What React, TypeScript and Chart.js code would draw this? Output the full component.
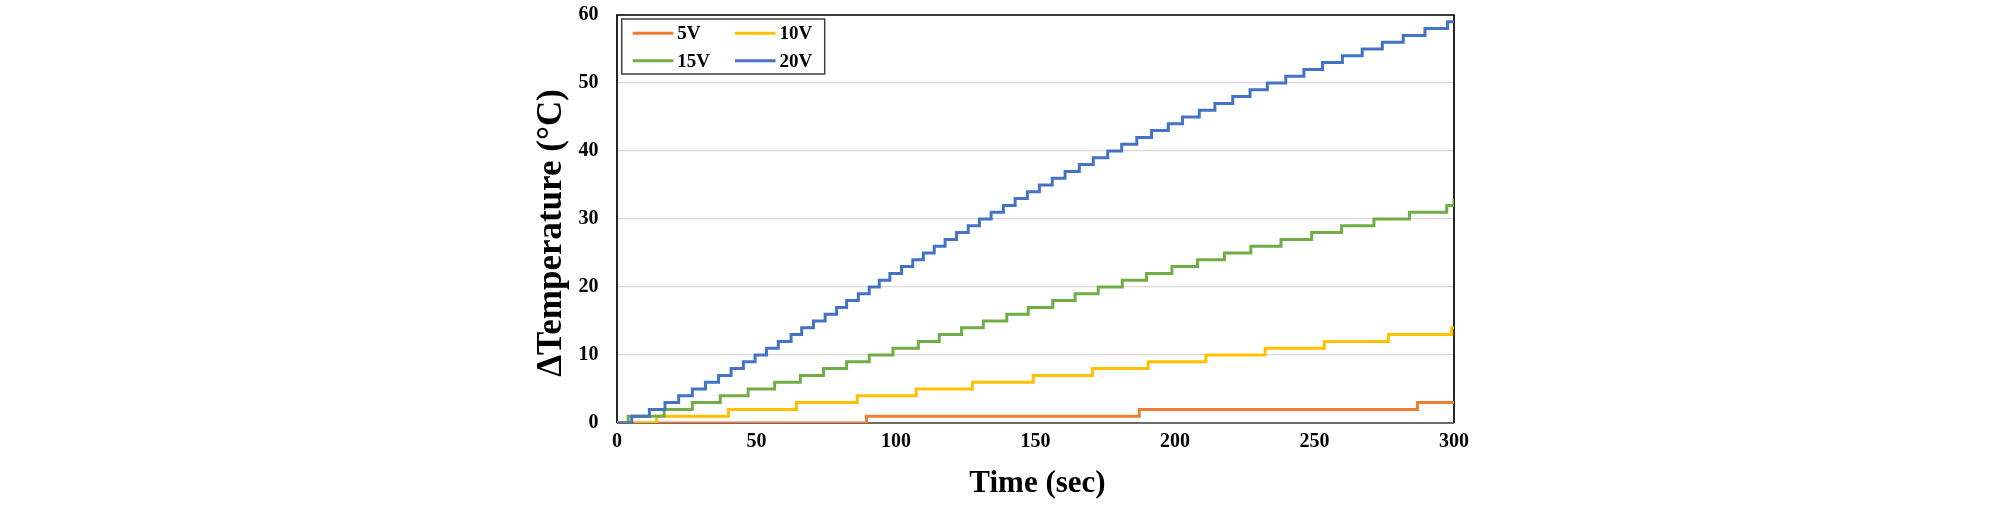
import React, { useEffect, useRef } from 'react';
import { Chart, registerables } from 'chart.js';

Chart.register(...registerables);

// ---- data ----
const SERIES_LABELS = ['5V', '10V', '15V', '20V'];
const SERIES_COLORS = ['#ED7D31', '#FFC000', '#70AD47', '#4472C4'];

const X_TITLE = 'Time (sec)';
const Y_TITLE = 'ΔTemperature (°C)';

// time (sec) at which each new reading starts, and the reading (°C)
const TIME_5V = [0, 89.4, 187.2, 286.9, 300];
const TEMP_5V = [0, 1, 2, 3, 3];

const TIME_10V = [0, 14.2, 40.0, 64.3, 86.1, 107.2, 127.4, 149.2, 170.4, 190.4, 211.1, 232.3, 253.5, 276.5, 299.2, 300];
const TEMP_10V = [0, 1, 2, 3, 4, 5, 6, 7, 8, 9, 10, 11, 12, 13, 14, 14];

const TIME_15V = [0, 4.0, 16.9, 27.0, 37.0, 47.0, 56.5, 65.7, 74.0, 82.3, 90.4, 98.9, 108.0, 115.5, 123.5, 131.3, 139.7, 147.4, 156.2, 164.2, 172.5, 181.1, 189.8, 198.9, 208.1, 217.7, 227.2, 238.0, 249.0, 259.7, 271.3, 284.0, 297.4, 300];
const TEMP_15V = [0, 1, 2, 3, 4, 5, 6, 7, 8, 9, 10, 11, 12, 13, 14, 15, 16, 17, 18, 19, 20, 21, 22, 23, 24, 25, 26, 27, 28, 29, 30, 31, 32, 33];

const TIME_20V = [0, 5.3, 11.6, 17.2, 22.1, 27.0, 31.7, 36.4, 40.9, 45.3, 49.5, 53.6, 57.8, 62.4, 66.2, 70.4, 74.6, 78.7, 82.3, 86.5, 90.4, 94.0, 97.8, 102.0, 106.0, 109.8, 113.7, 117.6, 121.7, 125.9, 129.9, 134.1, 138.5, 142.7, 147.1, 151.4, 156.0, 160.6, 165.7, 170.7, 175.9, 180.9, 186.3, 191.6, 197.6, 202.7, 208.7, 214.3, 220.7, 226.9, 233.1, 239.7, 246.2, 252.9, 260.0, 267.1, 274.3, 281.8, 289.6, 297.7, 300];
const TEMP_20V = [0, 1, 2, 3, 4, 5, 6, 7, 8, 9, 10, 11, 12, 13, 14, 15, 16, 17, 18, 19, 20, 21, 22, 23, 24, 25, 26, 27, 28, 29, 30, 31, 32, 33, 34, 35, 36, 37, 38, 39, 40, 41, 42, 43, 44, 45, 46, 47, 48, 49, 50, 51, 52, 53, 54, 55, 56, 57, 58, 59, 59];

const X_MIN = 0;
const X_MAX = 300;
const X_STEP = 50;
const Y_MIN = 0;
const Y_MAX = 60;
const Y_STEP = 10;

const SERIES_TIMES = [TIME_5V, TIME_10V, TIME_15V, TIME_20V];
const SERIES_TEMPS = [TEMP_5V, TEMP_10V, TEMP_15V, TEMP_20V];

// ---- styling ----
const FONT_FAMILY = '"Liberation Serif", "Times New Roman", Times, serif';
const W = 2008;
const H = 505;

const framePlugin = {
  id: 'frame',
  beforeDatasetsDraw(chart: any) {
    const { ctx, chartArea: a } = chart;
    ctx.save();
    ctx.strokeStyle = '#000000';
    ctx.lineWidth = 1.7;
    ctx.beginPath();
    ctx.moveTo(a.left, a.bottom);
    ctx.lineTo(a.left, a.top);
    ctx.lineTo(a.right, a.top);
    ctx.lineTo(a.right, a.bottom);
    ctx.stroke();
    ctx.strokeStyle = '#404040';
    ctx.lineWidth = 1.5;
    ctx.beginPath();
    ctx.moveTo(a.left, a.bottom);
    ctx.lineTo(a.right, a.bottom);
    ctx.stroke();
    ctx.restore();
  },
};

const legendPlugin = {
  id: 'boxLegend',
  afterDatasetsDraw(chart: any) {
    const { ctx, chartArea: a } = chart;
    const bx = a.left + 4.7;
    const by = a.top + 4;
    const bw = 203;
    const bh = 55;
    ctx.save();
    ctx.fillStyle = '#ffffff';
    ctx.fillRect(bx, by, bw, bh);
    ctx.strokeStyle = '#404040';
    ctx.lineWidth = 1.5;
    ctx.strokeRect(bx, by, bw, bh);
    ctx.font = `bold 19px ${FONT_FAMILY}`;
    ctx.textBaseline = 'middle';
    ctx.textAlign = 'left';
    const colX = [11, 113.3];
    const rowY = [14.3, 41.7];
    chart.data.datasets.forEach((ds: any, i: number) => {
      const cx = bx + colX[i % 2];
      const cy = by + rowY[Math.floor(i / 2)];
      ctx.strokeStyle = ds.borderColor;
      ctx.lineWidth = 3;
      ctx.beginPath();
      ctx.moveTo(cx, cy);
      ctx.lineTo(cx + 40.6, cy);
      ctx.stroke();
      ctx.fillStyle = '#000000';
      ctx.fillText(ds.label, cx + 44.6, cy + 1);
    });
    ctx.restore();
  },
};

const titlesPlugin = {
  id: 'axisTitles',
  afterDraw(chart: any) {
    const { ctx, chartArea: a } = chart;
    ctx.save();
    ctx.fillStyle = '#000000';
    ctx.textAlign = 'center';
    ctx.textBaseline = 'middle';
    ctx.font = `bold 31px ${FONT_FAMILY}`;
    ctx.fillText(X_TITLE, (a.left + a.right) / 2 + 2, a.bottom + 61);
    ctx.translate(a.left - 65.5, (a.top + a.bottom) / 2 + 14);
    ctx.rotate(-Math.PI / 2);
    ctx.font = `bold 35px ${FONT_FAMILY}`;
    ctx.fillText(Y_TITLE, 0, 0);
    ctx.restore();
  },
};

export default function App() {
  const canvasRef = useRef<HTMLCanvasElement | null>(null);

  useEffect(() => {
    document.body.style.margin = '0';
    const canvas = canvasRef.current;
    if (!canvas) return;

    const datasets = SERIES_LABELS.map((label, i) => ({
      label,
      data: SERIES_TIMES[i].map((t, j) => ({ x: t, y: SERIES_TEMPS[i][j] })),
      borderColor: SERIES_COLORS[i],
      backgroundColor: SERIES_COLORS[i],
      borderWidth: 3,
      pointRadius: 0,
      pointHoverRadius: 0,
      stepped: 'before' as const,
      fill: false,
      order: SERIES_LABELS.length - i,
    }));

    const chart = new Chart(canvas, {
      type: 'line',
      data: { datasets },
      options: {
        responsive: false,
        maintainAspectRatio: false,
        animation: false,
        devicePixelRatio: 1,
        layout: { padding: { left: 0, right: W - 1454, top: 15, bottom: 0 } },
        plugins: {
          legend: { display: false },
          tooltip: { enabled: false },
        },
        scales: {
          x: {
            type: 'linear',
            min: X_MIN,
            max: X_MAX,
            grid: { display: false, drawTicks: false },
            border: { display: false },
            ticks: {
              stepSize: X_STEP,
              padding: 7,
              maxRotation: 0,
              color: '#000000',
              font: { family: FONT_FAMILY, size: 20, weight: 'bold' },
            },
            afterFit(scale: any) {
              scale.height = H - 423;
            },
          },
          y: {
            type: 'linear',
            min: Y_MIN,
            max: Y_MAX,
            grid: {
              color: '#D9D9D9',
              lineWidth: 1.3,
              drawTicks: true,
              tickLength: 18,
              tickColor: 'rgba(0,0,0,0)',
            },
            border: { display: false },
            ticks: {
              stepSize: Y_STEP,
              padding: 0.5,
              color: '#000000',
              font: { family: FONT_FAMILY, size: 20, weight: 'bold' },
            },
            afterFit(scale: any) {
              scale.width = 617;
              scale.paddingTop = 0;
              scale.paddingBottom = 0;
            },
          },
        },
      },
      plugins: [framePlugin, legendPlugin, titlesPlugin],
    });

    return () => {
      chart.destroy();
    };
  }, []);

  return (
    <div style={{ width: W, height: H }}>
      <canvas ref={canvasRef} width={W} height={H} style={{ display: 'block', width: W, height: H }} />
    </div>
  );
}
